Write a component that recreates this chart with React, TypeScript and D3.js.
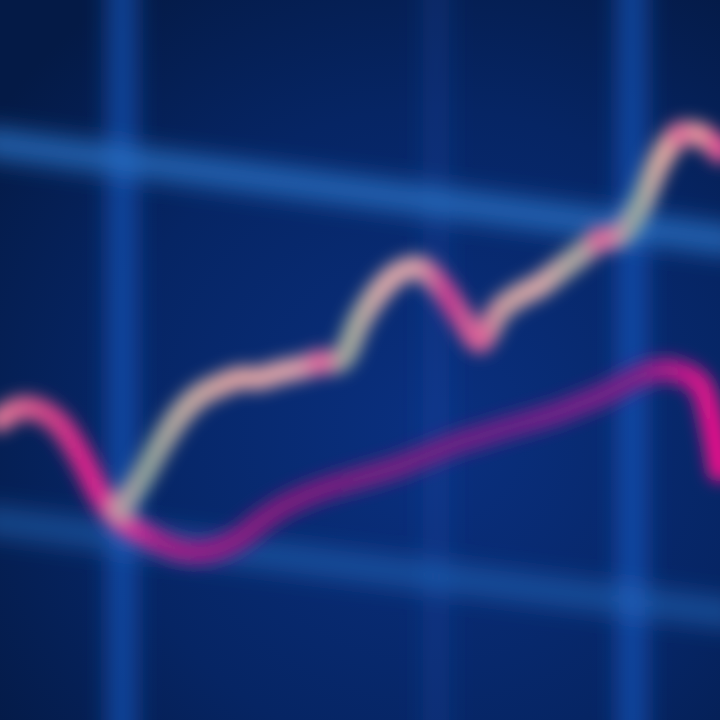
import { useEffect, useRef } from "react";
import * as d3 from "d3";

// session index (x) and the two price series
const sessions = d3.range(0, 37);
const priceSeries = [
  null, null, null, null, null, null, 49.2, 53.3, 58.2, 62.4, 65.1, 66.5, 67.5, 67.5, 68.3, 68.9, 69.7, 70.0,
  75.6, 79.7, 82.2, 82.8, 80.4, 76.3, 72.8, 77.0, 79.0, 80.4, 82.5, 84.6, 86.7, 87.4, 91.5, 97.8, 101.3, 101.3, 99.2,
];
const averageSeries = [
  61.7, 63.3, 63.0, 61.0, 56.8, 51.3, 47.8, 46.1, 44.7, 43.6, 43.3, 43.9, 45.3, 47.5, 49.4, 50.8, 51.9, 52.8,
  53.6, 54.4, 55.3, 56.4, 57.5, 58.6, 59.4, 60.3, 61.1, 61.9, 62.8, 63.9, 65.0, 66.4, 67.8, 68.6, 68.3, 66.5, 54.7,
];
// sessions where a down candle shows up as a pink blob on the price line
const downCandles = [16, 24, 30, 34, 36];
// grid: vertical lines (session) and horizontal levels (price at left edge, price at right edge)
const verticalGrid = [6.1, 21.8, 31.6];
const verticalStrength = [0.7, 0.22, 0.7];
const horizontalGrid = [
  { left: 100.0, right: 86.8, strength: 0.8 },
  { left: 47.5, right: 35.0, strength: 0.5 },
];

export default function App() {
  const chartRef = useRef<HTMLDivElement>(null);
  const width = 720;
  const height = 720;

  useEffect(() => {
    d3.select(chartRef.current).select("svg").remove();

    const svg = d3
      .select(chartRef.current)
      .append("svg")
      .attr("width", width)
      .attr("height", height)
      .style("display", "block");

    const x = d3.scaleLinear().domain([0, 36]).range([0, width]);
    const y = d3.scaleLinear().domain([20, 120]).range([height, 0]);

    const defs = svg.append("defs");

    const bg = defs.append("radialGradient").attr("id", "bg").attr("cx", "60%").attr("cy", "60%").attr("r", "75%");
    bg.append("stop").attr("offset", "0%").attr("stop-color", "#0a3080");
    bg.append("stop").attr("offset", "60%").attr("stop-color", "#062564");
    bg.append("stop").attr("offset", "100%").attr("stop-color", "#041a46");

    const blurGrid = defs.append("filter").attr("id", "blurGrid").attr("x", "-20%").attr("y", "-20%").attr("width", "140%").attr("height", "140%");
    blurGrid.append("feGaussianBlur").attr("stdDeviation", 12);
    const blurLine = defs.append("filter").attr("id", "blurLine").attr("x", "-20%").attr("y", "-20%").attr("width", "140%").attr("height", "140%");
    blurLine.append("feGaussianBlur").attr("stdDeviation", 8);

    // magenta average line colour along x
    const avgGrad = defs.append("linearGradient").attr("id", "avgGrad").attr("gradientUnits", "userSpaceOnUse")
      .attr("x1", 0).attr("x2", width).attr("y1", 0).attr("y2", 0);
    [
      [0, "#e07898"], [0.06, "#d04888"], [0.12, "#d8208a"], [0.17, "#e040a0"], [0.22, "#a02088"], [0.4, "#7a1e7e"],
      [0.7, "#6a2486"], [0.88, "#7a2488"], [0.95, "#c0188a"], [1, "#f0108c"],
    ].forEach(([o, c]) => avgGrad.append("stop").attr("offset", o as number).attr("stop-color", c as string));

    // price line colour along x: peach with greenish and pink patches
    const priceGrad = defs.append("linearGradient").attr("id", "priceGrad").attr("gradientUnits", "userSpaceOnUse")
      .attr("x1", 0).attr("x2", width).attr("y1", 0).attr("y2", 0);
    [
      [0.15, "#c898a8"], [0.2, "#8aa09a"], [0.26, "#c0a8a0"], [0.32, "#d8a0a0"], [0.4, "#d8a0a8"],
      [0.45, "#d888a8"], [0.48, "#98a89a"], [0.53, "#d8a8a8"], [0.58, "#d8a0a8"], [0.62, "#c83890"],
      [0.66, "#d06898"], [0.7, "#c8a0a0"], [0.75, "#d8a8a8"], [0.8, "#a8a8a0"], [0.85, "#d888a8"],
      [0.88, "#88a8a0"], [0.92, "#e0a8a0"], [0.97, "#e8a0a0"], [1, "#e04090"],
    ].forEach(([o, c]) => priceGrad.append("stop").attr("offset", o as number).attr("stop-color", c as string));

    svg.append("rect").attr("width", width).attr("height", height).attr("fill", "url(#bg)");

    const grid = svg.append("g").attr("filter", "url(#blurGrid)");
    verticalGrid.forEach((s, i) => {
      grid.append("line")
        .attr("x1", x(s)).attr("x2", x(s)).attr("y1", -40).attr("y2", height + 40)
        .attr("stroke", "#1c5cc8").attr("stroke-width", 26).attr("stroke-opacity", verticalStrength[i]);
    });
    horizontalGrid.forEach((h) => {
      grid.append("line")
        .attr("x1", x(-1)).attr("x2", x(37))
        .attr("y1", y(h.left + (h.left - h.right) / 36)).attr("y2", y(h.right - (h.left - h.right) / 36))
        .attr("stroke", "#2a74c8").attr("stroke-width", 28).attr("stroke-opacity", h.strength);
    });

    const lines = svg.append("g").attr("filter", "url(#blurLine)");

    const avgLine = d3.line<number>()
      .x((_, i) => x(sessions[i]))
      .y((d) => y(d))
      .curve(d3.curveCatmullRom);
    lines.append("path")
      .attr("d", avgLine(averageSeries) as string)
      .attr("fill", "none")
      .attr("stroke", "url(#avgGrad)")
      .attr("stroke-width", 24)
      .attr("stroke-linecap", "round");

    const priceLine = d3.line<number | null>()
      .defined((d) => d !== null)
      .x((_, i) => x(sessions[i]))
      .y((d) => y(d as number))
      .curve(d3.curveCatmullRom);
    lines.append("path")
      .attr("d", priceLine(priceSeries) as string)
      .attr("fill", "none")
      .attr("stroke", "url(#priceGrad)")
      .attr("stroke-width", 24)
      .attr("stroke-linecap", "round");

    lines.selectAll(".candle")
      .data(downCandles)
      .enter()
      .append("circle")
      .attr("class", "candle")
      .attr("cx", (d) => x(d))
      .attr("cy", (d) => y(priceSeries[d] as number))
      .attr("r", 14)
      .attr("fill", "#e05c98")
      .attr("fill-opacity", 0.65);
  }, []);

  return <div ref={chartRef} style={{ position: "fixed", left: 0, top: 0, width, height }} />;
}
